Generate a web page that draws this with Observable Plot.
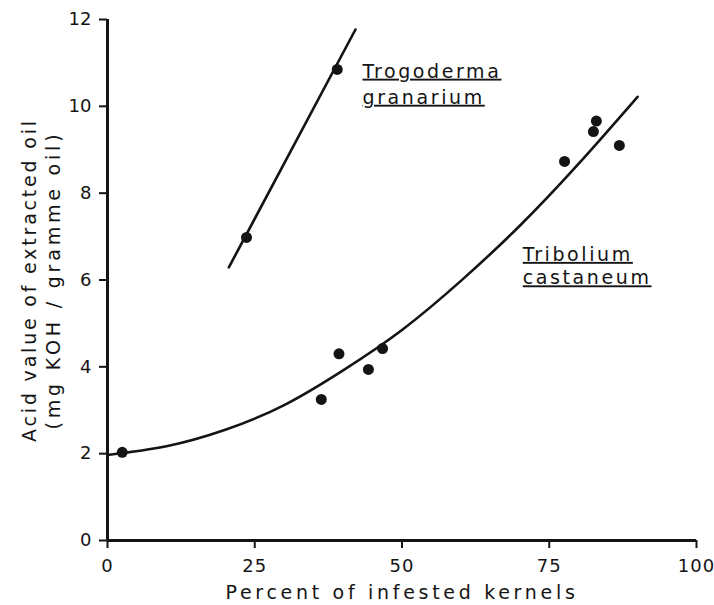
<!DOCTYPE html>
<html>
<head>
<meta charset="utf-8">
<script src="https://cdn.jsdelivr.net/npm/d3@7"></script>
<script src="https://cdn.jsdelivr.net/npm/@observablehq/plot@0.6"></script>
<style>
  html, body { margin: 0; padding: 0; background: #ffffff; }
  #chart { position: relative; width: 714px; height: 605px; }
  #chart svg { position: absolute; left: 0; top: 0; }
  .species text { text-decoration: underline; letter-spacing: 2.6px; }
  .xtitle text { letter-spacing: 3.7px; }
  .ytitle1 text { letter-spacing: 2.8px; }
  .ytitle2 text { letter-spacing: 3.8px; }
  .xaxis text { letter-spacing: 1px; }
</style>
</head>
<body>
<div id="chart"></div>
<script>
// Trogoderma granarium: observed points and fitted line
const trogoX = [23.6, 39.0];
const trogoY = [6.98, 10.85];
const trogoLineX = [20.6, 42.1];
const trogoLineY = [6.29, 11.77];

// Tribolium castaneum: observed points and fitted curve
const tribX = [2.5, 36.3, 39.3, 44.3, 46.7, 77.6, 82.5, 83.0, 86.9];
const tribY = [2.03, 3.25, 4.30, 3.94, 4.42, 8.73, 9.42, 9.66, 9.10];
const tribCurveX = [0, 10, 20, 30, 40, 50, 60, 70, 80, 90];
const tribCurveY = [1.97, 2.17, 2.55, 3.12, 3.92, 4.85, 5.98, 7.25, 8.68, 10.22];

const xTicks = [0, 25, 50, 75, 100];
const yTicks = [0, 2, 4, 6, 8, 10, 12];

const xLabel = "Percent of infested kernels";
const yLabel1 = "Acid value of extracted oil";
const yLabel2 = "(mg KOH / gramme oil)";

const speciesNames = ["Trogoderma", "granarium", "Tribolium", "castaneum"];
const speciesAt = [[43.3, 10.66], [43.3, 10.06], [70.5, 6.44], [70.5, 5.9]];

const zip = (xs, ys) => xs.map((x, i) => ({x, y: ys[i]}));
const trogoPts = zip(trogoX, trogoY);
const trogoLine = zip(trogoLineX, trogoLineY);
const tribPts = zip(tribX, tribY);
const tribCurve = zip(tribCurveX, tribCurveY);
const labels = speciesNames.map((t, i) => ({t, x: speciesAt[i][0], y: speciesAt[i][1]}));

const ink = "#141414";
const font = "'DejaVu Sans', sans-serif";

const plot = Plot.plot({
  width: 714,
  height: 605,
  marginLeft: 107,
  marginRight: 18,
  marginTop: 19,
  marginBottom: 65,
  style: {fontFamily: font, color: ink, background: "transparent"},
  x: {domain: [0, 100]},
  y: {domain: [0, 12]},
  marks: [
    Plot.ruleX([0], {y1: 0, y2: 12, stroke: ink, strokeWidth: 3}),
    Plot.ruleY([0], {x1: 0, x2: 100, stroke: ink, strokeWidth: 3}),
    Plot.axisX({ticks: xTicks, tickSize: 8, tickPadding: 11, strokeWidth: 2, fontSize: 18, label: null, tickFormat: d => String(d), stroke: ink, fill: ink, className: "xaxis"}),
    Plot.axisY({ticks: yTicks, tickSize: 8, tickPadding: 8, strokeWidth: 2, fontSize: 18, label: null, tickFormat: d => String(d), stroke: ink, fill: ink}),
    Plot.line(trogoLine, {x: "x", y: "y", stroke: ink, strokeWidth: 2.6}),
    Plot.line(tribCurve, {x: "x", y: "y", stroke: ink, strokeWidth: 2.6, curve: "natural"}),
    Plot.dot(trogoPts, {x: "x", y: "y", r: 5.5, fill: ink}),
    Plot.dot(tribPts, {x: "x", y: "y", r: 5.5, fill: ink}),
    Plot.text(labels, {x: "x", y: "y", text: "t", textAnchor: "start", lineAnchor: "bottom", fontSize: 19, fill: ink, className: "species"}),
    Plot.text([xLabel], {frameAnchor: "bottom", textAnchor: "middle", dy: 58, fontSize: 19, fill: ink, lineAnchor: "bottom", className: "xtitle"}),
    Plot.text([yLabel1], {frameAnchor: "left", textAnchor: "middle", dx: -78, rotate: -90, fontSize: 19, fill: ink, className: "ytitle1"}),
    Plot.text([yLabel2], {frameAnchor: "left", textAnchor: "middle", dx: -54, rotate: -90, fontSize: 19, fill: ink, className: "ytitle2"})
  ]
});
document.getElementById("chart").appendChild(plot);
</script>
</body>
</html>
